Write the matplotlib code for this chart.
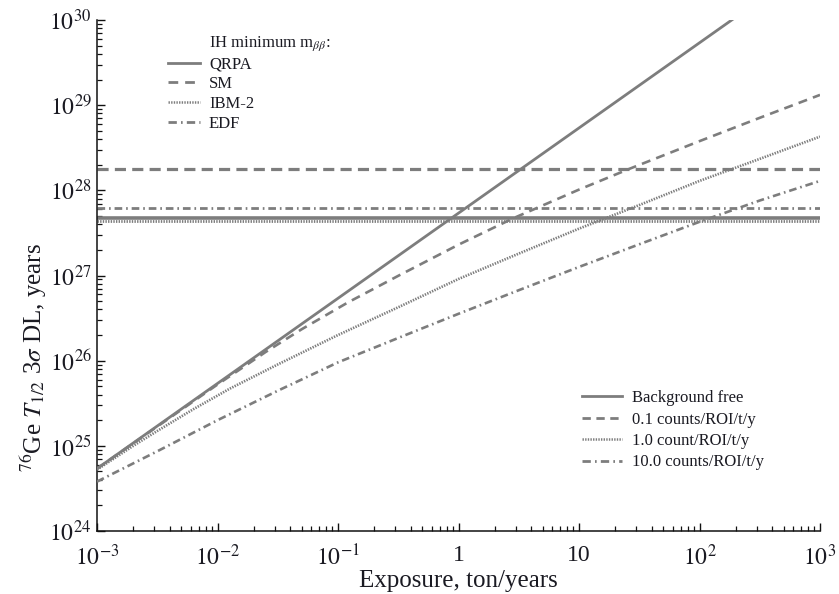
import matplotlib
matplotlib.use("Agg")
import matplotlib.pyplot as plt
from matplotlib.lines import Line2D
import numpy as np

plt.rcParams['font.family'] = ['Liberation Serif', 'DejaVu Serif']
plt.rcParams['mathtext.fontset'] = 'stix'
plt.rcParams['lines.scale_dashes'] = False

# ---------------- data ----------------
# IH minimum m_bb half-life levels (years)
ih_models = ['QRPA', 'SM', 'IBM-2', 'EDF']
ih_values = [4.7e27, 1.78e28, 4.4e27, 6.2e27]

# Background free
exp_bf = [1e-3, 1e-2, 1e-1, 1, 10, 100, 1000]
t_bf = [5.4e24, 5.4e25, 5.4e26, 5.4e27, 5.4e28, 5.4e29, 5.4e30]

# 0.1 counts/ROI/t/y
exp_01 = [1e-3, 1e-2, 0.025, 0.05, 0.12, 0.32, 1, 2.8, 10, 26.5, 100, 316, 1000]
t_01 = [5.4e24, 5.25e25, 1.26e26, 2.34e26, 4.8e26, 1.0e27, 2.3e27, 4.65e27,
        1.02e28, 1.8e28, 3.78e28, 7.1e28, 1.32e29]

# 1.0 count/ROI/t/y
exp_1 = [1e-3, 2e-3, 3.2e-3, 6.3e-3, 1.26e-2, 3.2e-2, 0.1, 0.32, 1, 3.2, 10,
         32, 100, 316, 1000]
t_1 = [5.25e24, 1.0e25, 1.51e25, 2.69e25, 4.68e25, 9.1e25, 2.0e26, 4.27e26,
       9.1e26, 1.82e27, 3.55e27, 6.76e27, 1.29e28, 2.34e28, 4.27e28]

# 10.0 counts/ROI/t/y
exp_10 = [1e-3, 3.2e-3, 1e-2, 3.2e-2, 0.1, 0.32, 1, 3.2, 10, 32, 100, 316, 1000]
t_10 = [3.8e24, 8.7e24, 2.0e25, 4.47e25, 9.55e25, 1.86e26, 3.55e26, 6.76e26,
        1.26e27, 2.34e27, 4.27e27, 7.59e27, 1.29e28]

x_ticks = [1e-3, 1e-2, 1e-1, 1, 10, 100, 1000]
x_ticklabels = [r'$10^{-3}$', r'$10^{-2}$', r'$10^{-1}$', '1', '10', r'$10^{2}$', r'$10^{3}$']
y_ticks = [1e24, 1e25, 1e26, 1e27, 1e28, 1e29, 1e30]
y_ticklabels = [r'$10^{24}$', r'$10^{25}$', r'$10^{26}$', r'$10^{27}$', r'$10^{28}$',
                r'$10^{29}$', r'$10^{30}$']

# ---------------- styles ----------------
gray = '#7d7d7d'
txt = '#1a1a22'
W, H = 839, 594
fig = plt.figure(figsize=(W / 100, H / 100), dpi=100)
ax = fig.add_axes([97 / W, 1 - 531 / H, (820 - 97) / W, (531 - 20) / H])

dash_sm = (0, (8, 4.5))
dot = (0, (1.0, 0.9))
dashdot = (0, (5.5, 2.8, 1.2, 2.8))
dash_diag = (0, (6.5, 4.5))

hstyles = {'QRPA': '-', 'SM': dash_sm, 'IBM-2': dot, 'EDF': dashdot}
hwidth = {'QRPA': 2.6, 'SM': 2.3, 'IBM-2': 2.0, 'EDF': 2.0}
for name, val in zip(ih_models, ih_values):
    ax.axhline(val, color=gray, lw=hwidth[name], linestyle=hstyles[name], zorder=2)

ax.plot(exp_10, t_10, color=gray, lw=1.9, linestyle=dashdot, zorder=3)
ax.plot(exp_1, t_1, color=gray, lw=1.9, linestyle=dot, zorder=3)
ax.plot(exp_01, t_01, color=gray, lw=1.9, linestyle=dash_diag, zorder=3)
ax.plot(exp_bf, t_bf, color=gray, lw=2.0, linestyle='-', zorder=4)

ax.set_xscale('log')
ax.set_yscale('log')
ax.set_xlim(1e-3, 1e3)
ax.set_ylim(1e24, 1e30)

ax.spines['top'].set_visible(False)
ax.spines['right'].set_visible(False)
for s in ('left', 'bottom'):
    ax.spines[s].set_linewidth(1.1)
    ax.spines[s].set_color('#111111')

ax.set_xticks(x_ticks)
ax.set_xticklabels(x_ticklabels)
ax.set_yticks(y_ticks)
ax.set_yticklabels(y_ticklabels)
ax.xaxis.set_minor_locator(matplotlib.ticker.LogLocator(base=10, subs=np.arange(2, 10), numticks=20))
ax.yaxis.set_minor_locator(matplotlib.ticker.LogLocator(base=10, subs=np.arange(2, 10), numticks=20))
ax.xaxis.set_minor_formatter(matplotlib.ticker.NullFormatter())
ax.yaxis.set_minor_formatter(matplotlib.ticker.NullFormatter())
ax.tick_params(which='major', direction='in', length=6, width=1.0, labelsize=17,
               colors='#111111', labelcolor=txt)
ax.tick_params(axis='y', which='major', pad=4)
ax.tick_params(axis='x', which='major', pad=10)
ax.tick_params(which='minor', direction='in', length=3.5, width=0.9, colors='#111111')

ax.set_xlabel('Exposure, ton/years', fontsize=18, color=txt, labelpad=0)
ax.set_ylabel(r'$^{76}$Ge $T_{1/2}$ 3$\sigma$ DL, years', fontsize=18, color=txt)
ax.yaxis.set_label_coords(-0.066, 0.34)

# ---------------- legends ----------------
fs = 12
fpx = fs * 100 / 72
h_title = Line2D([], [], color='none')
h_q = Line2D([], [], color=gray, lw=2.0, linestyle='-')
h_s = Line2D([], [], color=gray, lw=2.0, linestyle=(0, (7, 5)))
h_i = Line2D([], [], color=gray, lw=1.8, linestyle=dot)
h_e = Line2D([], [], color=gray, lw=2.0, linestyle=(0, (6, 3, 1.2, 3)))
leg1 = fig.legend([h_title, h_q, h_s, h_i, h_e],
                  [r'IH minimum m$_{\beta\beta}$:', 'QRPA', 'SM', 'IBM-2', 'EDF'],
                  loc='upper left', bbox_to_anchor=(168 / W, 1 - 34 / H),
                  bbox_transform=fig.transFigure, frameon=False, fontsize=fs,
                  borderpad=0, borderaxespad=0, handlelength=32 / fpx,
                  handletextpad=9 / fpx, labelspacing=0.23, labelcolor=txt)

h_bf = Line2D([], [], color=gray, lw=2.0, linestyle='-')
h_01 = Line2D([], [], color=gray, lw=2.0, linestyle=(0, (6, 4)))
h_1 = Line2D([], [], color=gray, lw=1.8, linestyle=dot)
h_10 = Line2D([], [], color=gray, lw=2.0, linestyle=(0, (6, 3, 1.2, 3)))
leg2 = fig.legend([h_bf, h_01, h_1, h_10],
                  ['Background free', '0.1 counts/ROI/t/y', '1.0 count/ROI/t/y',
                   '10.0 counts/ROI/t/y'],
                  loc='upper left', bbox_to_anchor=(582 / W, 1 - 390 / H),
                  bbox_transform=fig.transFigure, frameon=False, fontsize=fs,
                  borderpad=0, borderaxespad=0, handlelength=40 / fpx,
                  handletextpad=10 / fpx, labelspacing=0.33, labelcolor=txt)

fig.savefig('out.png', dpi=100, facecolor='white')
